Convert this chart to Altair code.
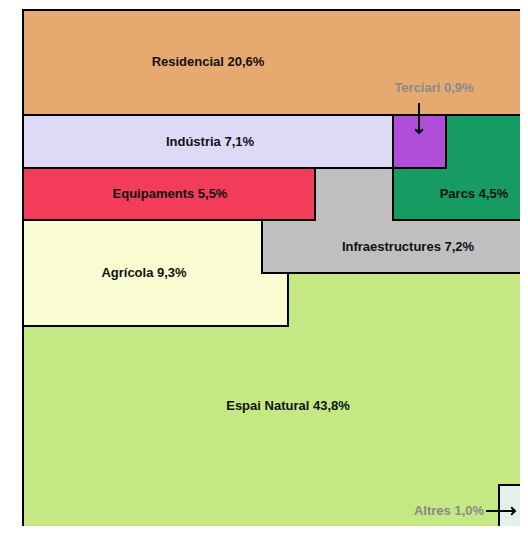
import altair as alt
import pandas as pd

# land-use categories and their shares (%)
categories = ["Espai Natural", "Agrícola", "Infraestructures", "Equipaments",
              "Parcs", "Terciari", "Indústria", "Residencial", "Altres"]
shares = [43.8, 9.3, 7.2, 5.5, 4.5, 0.9, 7.1, 20.6, 1.0]
colors = ["#C4E884", "#FAFCD2", "#BFBFBF", "#F23C59", "#169B62",
          "#B04ED9", "#DDDAF5", "#E6AA70", "#E3F0EC"]
callout = [False, False, False, False, False, True, False, False, True]

# block layout in frame units (left, right, top, bottom)
x_left = [0, 0, 239, 0, 370, 370, 0, 0, 476]
x_right = [520, 265, 520, 292, 520, 423, 370, 520, 520]
y_top = [0, 210, 158, 158, 105, 105, 105, 0, 475]
y_bottom = [540, 316, 263, 210, 210, 158, 158, 105, 540]
label_x = [265, 121, 385, 147, 451, 411, 187, 185, 426]
label_y = [396, 263, 237, 184, 184, 78, 132, 52, 501]

# callout arrows (start -> tip)
arrow_x = [396, 463]
arrow_x2 = [396, 492]
arrow_y = [93, 501]
arrow_y2 = [123, 501]
arrow_angle = [0, 270]

labels = [f"{c} {s:.1f}%".replace(".", ",") for c, s in zip(categories, shares)]

blocks = pd.DataFrame({
    "cat": categories, "x": x_left, "x2": x_right, "y": y_top, "y2": y_bottom,
    "lx": label_x, "ly": label_y, "label": labels,
    "kind": ["callout" if c else "main" for c in callout],
})
arrows = pd.DataFrame({"x": arrow_x, "x2": arrow_x2, "y": arrow_y, "y2": arrow_y2,
                       "angle": arrow_angle})

xs = alt.Scale(domain=[-3, 497], nice=False, zero=False)
ys = alt.Scale(domain=[-2, 516], nice=False, zero=False, reverse=True)

rects = alt.Chart(blocks).mark_rect(stroke="black", strokeWidth=2, clip=True).encode(
    x=alt.X("x:Q", scale=xs, axis=None), x2="x2:Q",
    y=alt.Y("y:Q", scale=ys, axis=None), y2="y2:Q",
    color=alt.Color("cat:N", scale=alt.Scale(domain=categories, range=colors), legend=None),
)

texts = alt.Chart(blocks).mark_text(font="Liberation Sans", fontWeight="bold", fontSize=13,
                                    baseline="middle", align="center").encode(
    x=alt.X("lx:Q", scale=xs, axis=None),
    y=alt.Y("ly:Q", scale=ys, axis=None),
    text="label:N",
    color=alt.Color("kind:N", scale=alt.Scale(domain=["main", "callout"],
                                              range=["#111111", "#8A8A8A"]), legend=None),
)

rules = alt.Chart(arrows).mark_rule(color="black", strokeWidth=2).encode(
    x=alt.X("x:Q", scale=xs, axis=None), x2="x2:Q",
    y=alt.Y("y:Q", scale=ys, axis=None), y2="y2:Q",
)

heads = alt.Chart(arrows).mark_point(shape="M-1,-1L0,0L1,-1", filled=False, size=60,
                                     strokeWidth=2, color="black", opacity=1).encode(
    x=alt.X("x2:Q", scale=xs, axis=None),
    y=alt.Y("y2:Q", scale=ys, axis=None),
    angle=alt.Angle("angle:Q", scale=None),
)

chart = alt.layer(rects, texts, rules, heads).properties(
    width=500, height=518,
    padding={"left": 12, "top": 0, "right": 0, "bottom": 0},
    autosize=alt.AutoSizeParams(type="none"),
).configure_view(stroke=None).resolve_scale(color="independent")

chart.save("out.html", embed_options={"renderer": "svg", "actions": False})
